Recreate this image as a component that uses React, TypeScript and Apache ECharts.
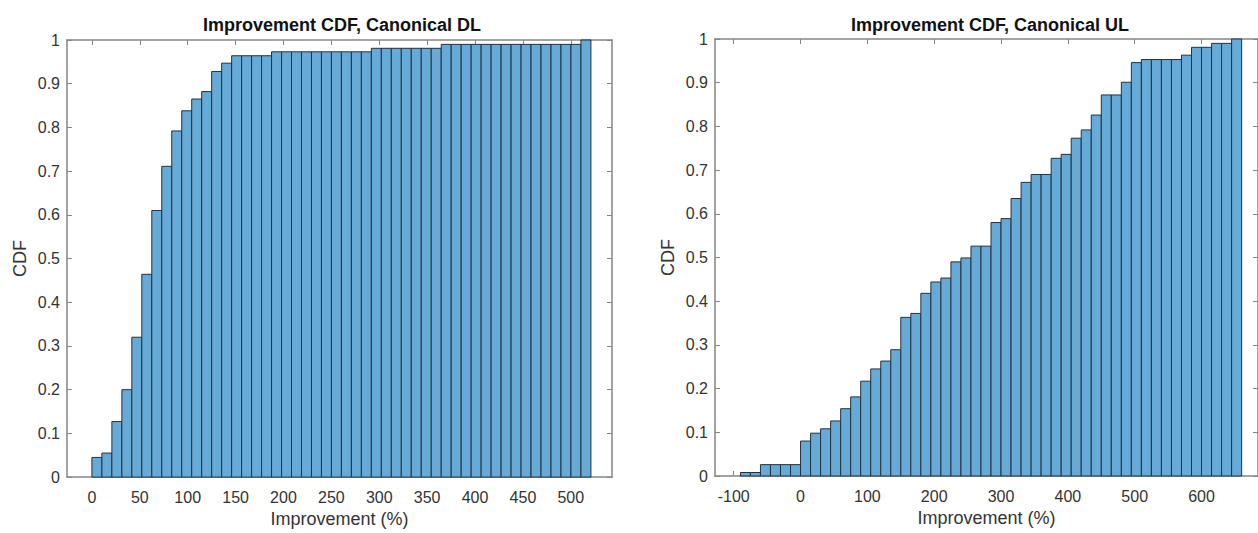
import React, { useEffect, useRef } from "react";
import * as echarts from "echarts";

const dlTitle = "Improvement CDF, Canonical DL";
const ulTitle = "Improvement CDF, Canonical UL";
const xName = "Improvement (%)";
const yName = "CDF";

// histogram bin edges (uniform bins)
const dlBinStart = 0;
const dlBinWidth = 10.42;
const ulBinStart = -90;
const ulBinWidth = 15;

// CDF value of each bin
const dlCdf = [
  0.045, 0.055, 0.127, 0.2, 0.32, 0.464, 0.61, 0.711, 0.792, 0.838,
  0.865, 0.882, 0.928, 0.947, 0.964, 0.964, 0.964, 0.964, 0.973, 0.973,
  0.973, 0.973, 0.973, 0.973, 0.973, 0.973, 0.973, 0.973, 0.981, 0.981,
  0.981, 0.981, 0.981, 0.981, 0.981, 0.99, 0.99, 0.99, 0.99, 0.99,
  0.99, 0.99, 0.99, 0.99, 0.99, 0.99, 0.99, 0.99, 0.99, 1.0,
];
const ulCdf = [
  0.008, 0.008, 0.026, 0.026, 0.026, 0.026, 0.08, 0.098, 0.108, 0.126,
  0.154, 0.181, 0.217, 0.245, 0.263, 0.289, 0.363, 0.372, 0.418, 0.444,
  0.453, 0.49, 0.499, 0.526, 0.526, 0.58, 0.589, 0.635, 0.672, 0.69,
  0.69, 0.727, 0.736, 0.773, 0.792, 0.826, 0.872, 0.872, 0.901, 0.946,
  0.953, 0.953, 0.953, 0.953, 0.963, 0.981, 0.981, 0.99, 0.99, 1.0,
];

const dlXTicks = [0, 50, 100, 150, 200, 250, 300, 350, 400, 450, 500];
const ulXTicks = [-100, 0, 100, 200, 300, 400, 500, 600];
const dlXRange = [-26, 543];
const ulXRange = [-128, 684.5];

const FONT = "'Liberation Sans', Arial, Helvetica, sans-serif";
const AXIS_COLOR = "#858585";
const LABEL_COLOR = "#333333";
const FILL = "#66AAD7";
const EDGE = "#27313b";

function binData(start: number, width: number, vals: number[]) {
  return vals.map((v, i) => [start + i * width, start + (i + 1) * width, v]);
}

function xAxis(gridIndex: number, range: number[], ticks: number[], position: string, main: boolean) {
  return {
    type: "value",
    gridIndex,
    min: range[0],
    max: range[1],
    position,
    name: main ? xName : "",
    nameLocation: "middle",
    nameGap: 32,
    nameTextStyle: { color: LABEL_COLOR, fontSize: 18, fontFamily: FONT },
    axisLine: { show: true, onZero: false, lineStyle: { color: AXIS_COLOR, width: 1.5 } },
    axisTick: { show: true, inside: true, length: 5, customValues: ticks, lineStyle: { color: AXIS_COLOR, width: 1 } },
    axisLabel: { show: main, customValues: ticks, color: LABEL_COLOR, fontSize: 16, fontFamily: FONT, margin: 12 },
    splitLine: { show: false },
  };
}

function yAxis(gridIndex: number, position: string, main: boolean) {
  return {
    type: "value",
    gridIndex,
    min: 0,
    max: 1,
    interval: 0.1,
    position,
    name: main ? yName : "",
    nameLocation: "middle",
    nameGap: 38,
    nameTextStyle: { color: LABEL_COLOR, fontSize: 18, fontFamily: FONT },
    axisLine: { show: true, onZero: false, lineStyle: { color: AXIS_COLOR, width: 1.5 } },
    axisTick: { show: true, inside: true, length: 5, lineStyle: { color: AXIS_COLOR, width: 1 } },
    axisLabel: { show: main, color: LABEL_COLOR, fontSize: 16, fontFamily: FONT, margin: 7 },
    splitLine: { show: false },
  };
}

function histSeries(xIdx: number, yIdx: number, data: number[][]) {
  return {
    type: "custom",
    xAxisIndex: xIdx,
    yAxisIndex: yIdx,
    encode: { x: [0, 1], y: 2 },
    data,
    renderItem: (params: any, api: any) => {
      const x0 = api.value(0);
      const x1 = api.value(1);
      const v = api.value(2);
      const p0 = api.coord([x0, v]);
      const p1 = api.coord([x1, 0]);
      return {
        type: "rect",
        shape: { x: p0[0], y: p0[1], width: p1[0] - p0[0], height: p1[1] - p0[1] },
        style: { fill: FILL, stroke: EDGE, lineWidth: 1 },
      };
    },
  };
}

export default function App() {
  const ref = useRef<HTMLDivElement>(null);
  useEffect(() => {
    if (!ref.current) return;
    const chart = echarts.init(ref.current, null, { renderer: "svg" });
    chart.setOption({
      animation: false,
      backgroundColor: "#ffffff",
      title: [
        {
          text: dlTitle,
          left: 342,
          top: 16,
          padding: 0,
          textAlign: "center",
          textStyle: { color: "#111111", fontSize: 18, fontWeight: "bold", fontFamily: FONT },
        },
        {
          text: ulTitle,
          left: 990,
          top: 16,
          padding: 0,
          textAlign: "center",
          textStyle: { color: "#111111", fontSize: 18, fontWeight: "bold", fontFamily: FONT },
        },
      ],
      grid: [
        { left: 67, top: 40, width: 545, height: 440 },
        { left: 715, top: 39, width: 545, height: 437 },
      ],
      xAxis: [
        xAxis(0, dlXRange, dlXTicks, "bottom", true),
        xAxis(0, dlXRange, dlXTicks, "top", false),
        xAxis(1, ulXRange, ulXTicks, "bottom", true),
        xAxis(1, ulXRange, ulXTicks, "top", false),
      ],
      yAxis: [
        yAxis(0, "left", true),
        yAxis(0, "right", false),
        yAxis(1, "left", true),
        yAxis(1, "right", false),
      ],
      series: [
        histSeries(0, 0, binData(dlBinStart, dlBinWidth, dlCdf)),
        histSeries(2, 2, binData(ulBinStart, ulBinWidth, ulCdf)),
      ],
    });
    return () => chart.dispose();
  }, []);
  return (
    <div
      ref={ref}
      style={{ position: "fixed", left: 0, top: 0, width: 1258, height: 533, background: "#fff" }}
    />
  );
}
